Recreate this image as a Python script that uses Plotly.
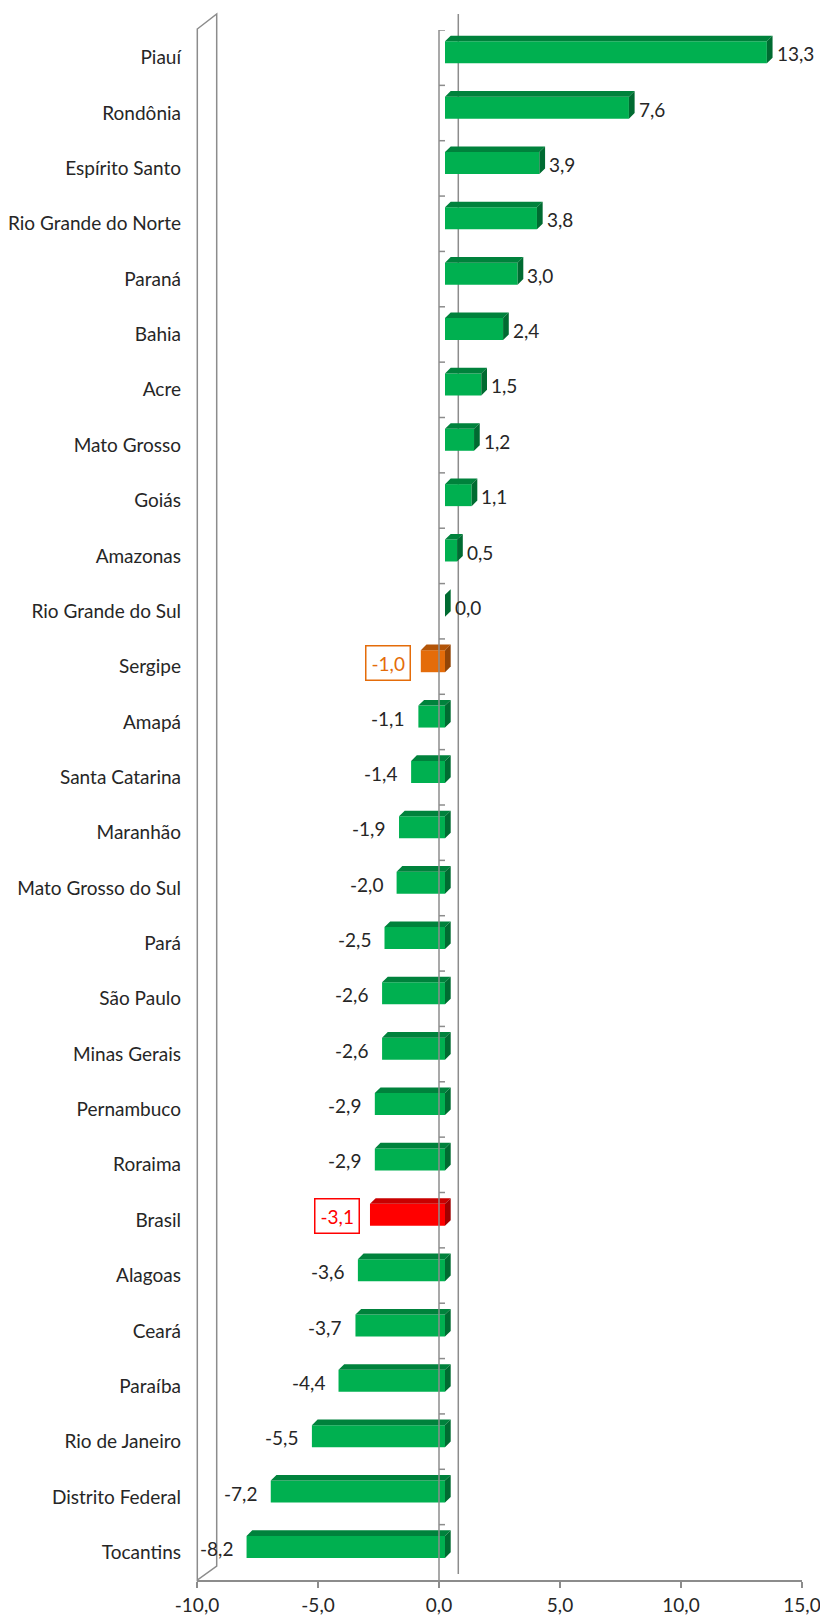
import plotly.graph_objects as go

# ---------------- data ----------------
states = ["Piauí", "Rondônia", "Espírito Santo", "Rio Grande do Norte", "Paraná", "Bahia",
          "Acre", "Mato Grosso", "Goiás", "Amazonas", "Rio Grande do Sul", "Sergipe", "Amapá",
          "Santa Catarina", "Maranhão", "Mato Grosso do Sul", "Pará", "São Paulo",
          "Minas Gerais", "Pernambuco", "Roraima", "Brasil", "Alagoas", "Ceará", "Paraíba",
          "Rio de Janeiro", "Distrito Federal", "Tocantins"]
values = [13.3, 7.6, 3.9, 3.8, 3.0, 2.4, 1.5, 1.2, 1.1, 0.5, 0.0, -1.0, -1.1, -1.4, -1.9,
          -2.0, -2.5, -2.6, -2.6, -2.9, -2.9, -3.1, -3.6, -3.7, -4.4, -5.5, -7.2, -8.2]
x_tick_vals = [-10, -5, 0, 5, 10, 15]
x_tick_labels = ["-10,0", "-5,0", "0,0", "5,0", "10,0", "15,0"]
highlight = {"Sergipe": "orange", "Brasil": "red"}

# ---------------- styles ----------------
PALETTE = {
    "green": ("#00B050", "#00823C", "#006B31"),
    "orange": ("#E46C0A", "#B35508", "#934507"),
    "red": ("#FF0000", "#C80000", "#A00000"),
}
TEXT_COLOR = {"orange": "#E46C0A", "red": "#FF0000"}
FONT = "Lato, 'Open Sans', sans-serif"
FS = 19
TXT = "#262626"
GRAY = "#8C8C8C"

W, H = 820, 1617
ML, MR, MT, MB = 197, 18, 30, 37
PW, PH = W - ML - MR, H - MT - MB
PX_PER_UNIT = PW / 25.0
PX_PER_CAT = PH / len(states)

BAR_SHIFT = 6 / PX_PER_UNIT        # bars sit slightly behind the front axis plane
DX = 5.7 / PX_PER_UNIT             # depth offset along x
DY = 5.6 / PX_PER_CAT              # depth offset along y
BAR_W = 22 / PX_PER_CAT
BAR_OFF = -16.4 / PX_PER_CAT

ypos = list(range(len(states)))
groups = [highlight.get(s, "green") for s in states]

fig = go.Figure()

# front faces
fig.add_trace(go.Bar(
    x=values, y=ypos, orientation="h", base=0,
    width=BAR_W, offset=BAR_OFF,
    marker=dict(color=[PALETTE[g][0] for g in groups], line=dict(width=0)),
    xaxis="x2", yaxis="y", hoverinfo="skip", showlegend=False,
))

# top and side faces (3D effect)
for g in PALETTE:
    tx, ty, sx, sy = [], [], [], []
    for i, (v, gg) in enumerate(zip(values, groups)):
        if gg != g:
            continue
        a, b = min(0, v), max(0, v)
        t, bot = i + BAR_OFF, i + BAR_OFF + BAR_W
        if b > a:
            tx += [a, b, b + DX, a + DX, a, None]
            ty += [t, t, t - DY, t - DY, t, None]
        sx += [b, b, b + DX, b + DX, b, None]
        sy += [t, bot, bot - DY, t - DY, t, None]
    if not sx:
        continue
    if tx:
        fig.add_trace(go.Scatter(x=tx, y=ty, mode="lines", fill="toself",
                                 fillcolor=PALETTE[g][1], line=dict(width=0),
                                 xaxis="x2", yaxis="y", hoverinfo="skip", showlegend=False))
    fig.add_trace(go.Scatter(x=sx, y=sy, mode="lines", fill="toself",
                             fillcolor=PALETTE[g][2], line=dict(width=0),
                             xaxis="x2", yaxis="y", hoverinfo="skip", showlegend=False))

# invisible trace to anchor the primary x axis
fig.add_trace(go.Scatter(x=[0], y=[0], mode="markers", marker=dict(opacity=0),
                         xaxis="x", yaxis="y", hoverinfo="skip", showlegend=False))

# value labels
annotations = []
for i, (s, v, g) in enumerate(zip(states, values, groups)):
    txt = f"{v:.1f}".replace(".", ",")
    if v >= 0:
        ann = dict(x=v + DX, xanchor="left", xshift=2)
    else:
        ann = dict(x=v, xanchor="right", xshift=-12)
    ann.update(xref="x2", yref="y", y=i - 0.07, yanchor="middle", text=txt,
               showarrow=False, font=dict(family=FONT, size=FS, color=TXT))
    if s in highlight:
        c = TEXT_COLOR[g]
        ann.update(font=dict(family=FONT, size=FS, color=c), bordercolor=c,
                   borderwidth=1.5, borderpad=5, xshift=-10)
    annotations.append(ann)


def px_x(p):
    return (p - ML) / PW


def px_y(p):
    return (MT + PH - p) / PH


shapes = []
# left wall (parallelogram)
wall = [(197.3, 29), (216.7, 14), (216.7, 1566), (197.3, 1580)]
path = "M " + " L ".join(f"{px_x(x):.5f},{px_y(y):.5f}" for x, y in wall) + " Z"
shapes.append(dict(type="path", path=path, xref="paper", yref="paper",
                   line=dict(color=GRAY, width=1.5), layer="below"))
# back wall zero line
shapes.append(dict(type="line", xref="paper", yref="paper",
                   x0=px_x(458.3), x1=px_x(458.3), y0=px_y(14), y1=px_y(1574),
                   line=dict(color=GRAY, width=1.5), layer="below"))
# front category axis at x = 0 with inside ticks at category boundaries
shapes.append(dict(type="line", xref="x", yref="y", x0=0, x1=0,
                   y0=-0.5, y1=len(states) - 0.5,
                   line=dict(color=GRAY, width=1.5), layer="above"))
for k in range(len(states)):
    shapes.append(dict(type="line", xref="x", yref="y", xsizemode="pixel", xanchor=0,
                       x0=0, x1=6, y0=k - 0.5, y1=k - 0.5,
                       line=dict(color=GRAY, width=1.5), layer="above"))

fig.update_layout(
    width=W, height=H,
    margin=dict(l=ML, r=MR, t=MT, b=MB, pad=0, autoexpand=False),
    paper_bgcolor="white", plot_bgcolor="white",
    font=dict(family=FONT, size=FS, color=TXT),
    barmode="overlay",
    xaxis=dict(range=[-10, 15], tickvals=x_tick_vals, ticktext=x_tick_labels,
               showgrid=False, zeroline=False, showline=True, linecolor=GRAY,
               linewidth=1.5, ticks="outside", ticklen=6, tickcolor=GRAY, tickwidth=1.5,
               ticklabelstandoff=1, ticklabeloverflow="allow",
               tickfont=dict(family=FONT, size=FS, color=TXT),
               automargin=False, fixedrange=True),
    xaxis2=dict(range=[-10 - BAR_SHIFT, 15 - BAR_SHIFT], overlaying="x", visible=False,
                automargin=False, fixedrange=True),
    yaxis=dict(range=[len(states) - 0.5, -0.5], tickvals=ypos, ticktext=states,
               showgrid=False, zeroline=False, showline=False, ticks="",
               ticklabelstandoff=15, ticklabeloverflow="allow",
               tickfont=dict(family=FONT, size=FS, color=TXT),
               automargin=False, fixedrange=True),
    annotations=annotations,
    shapes=shapes,
    showlegend=False,
)

fig.write_html(
    "out.html",
    config={"displayModeBar": False},
    post_script="document.body.style.margin='0';document.body.style.overflow='hidden';",
)
